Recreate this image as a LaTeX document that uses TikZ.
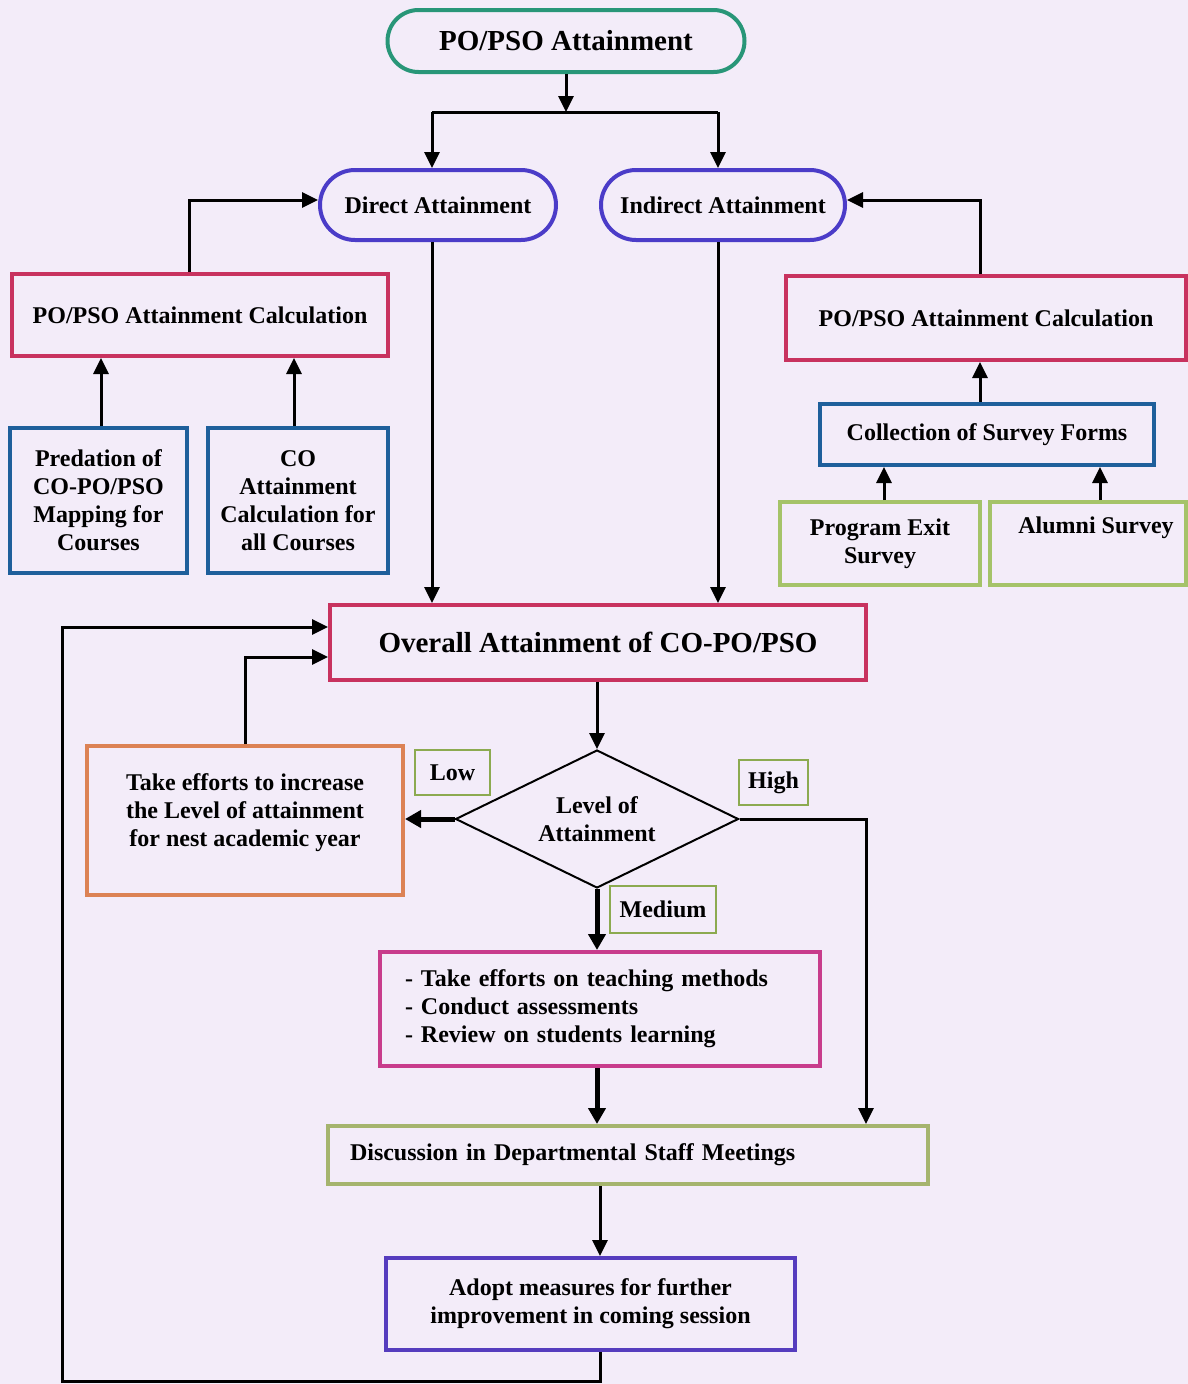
\documentclass[tikz,border=0pt]{standalone}
\usepackage{fontspec}
\setmainfont{Liberation Serif}
\usetikzlibrary{arrows.meta,shapes.geometric,shapes.misc}
\definecolor{bgc}{RGB}{243,236,249}
\definecolor{tealc}{RGB}{40,150,120}
\definecolor{pillc}{RGB}{75,60,200}
\definecolor{crimc}{RGB}{200,50,95}
\definecolor{bluec}{RGB}{30,95,155}
\definecolor{greenc}{RGB}{165,195,105}
\definecolor{orangec}{RGB}{220,130,85}
\definecolor{magc}{RGB}{200,60,140}
\definecolor{olivec}{RGB}{165,180,110}
\definecolor{adoptc}{RGB}{85,60,190}
\definecolor{labc}{RGB}{140,170,80}
\begin{document}
\begin{tikzpicture}[x=1pt,y=-1pt,
  base/.style={font=\bfseries\fontsize{24}{28}\selectfont, align=center, inner sep=0pt},
  big/.style={font=\bfseries\fontsize{29}{33}\selectfont},
  pill/.style={base, rounded rectangle, draw=#1, line width=4pt},
  box/.style={base, rectangle, draw=#1, line width=4pt},
  lab/.style={base, rectangle, draw=labc, line width=2pt},
  conn/.style={line width=3pt, -{Triangle[length=16pt,width=15pt]}},
  thickconn/.style={line width=5pt, -{Triangle[length=16pt,width=17pt]}},
  plain/.style={line width=3pt}]
\fill[bgc] (0,0) rectangle (1188,1384);
\useasboundingbox (0,0) rectangle (1188,1384);

% nodes
\node[pill=tealc, big, minimum width=357pt, minimum height=62pt] (title) at (566,41) {PO/PSO Attainment};
\node[pill=pillc, minimum width=236pt, minimum height=70pt] (direct) at (438,205) {Direct Attainment};
\node[pill=pillc, minimum width=244pt, minimum height=70pt] (indirect) at (723,205) {Indirect Attainment};
\node[box=crimc, minimum width=376pt, minimum height=82pt] (calcL) at (200,315) {PO/PSO Attainment Calculation};
\node[box=crimc, minimum width=400pt, minimum height=84pt] (calcR) at (986,318) {PO/PSO Attainment Calculation};
\node[box=bluec, minimum width=177pt, minimum height=145pt] (pred) at (98.5,500.5) {Predation of\\CO-PO/PSO\\Mapping for\\Courses};
\node[box=bluec, minimum width=180pt, minimum height=145pt] (coatt) at (298,500.5) {CO\\Attainment\\Calculation for\\all Courses};
\node[box=bluec, minimum width=334pt, minimum height=61pt] (coll) at (987,434.5) {Collection of Survey Forms};
\node[box=greenc, minimum width=200pt, minimum height=83pt] (exit) at (880,543.5) {Program Exit\\Survey};
\node[box=greenc, minimum width=196pt, minimum height=83pt] (alum) at (1088,543.5) {\hspace*{16pt}Alumni Survey\\\strut};
\node[box=crimc, big, minimum width=536pt, minimum height=75pt] (overall) at (598,642.5) {Overall Attainment of CO-PO/PSO};
\node[base, diamond, aspect=2.05, draw, line width=2pt, minimum width=283pt, minimum height=138pt] (level) at (597,819) {Level of\\Attainment};
\node[box=orangec, minimum width=316pt, minimum height=149pt] (effort) at (245,820.5) {Take efforts to increase\\the Level of attainment\\for nest academic year\\[-8pt]\mbox{}};
\node[lab, minimum width=75pt, minimum height=45pt] (low) at (452.5,772.5) {Low};
\node[lab, minimum width=69pt, minimum height=45pt] (high) at (773.5,782.5) {High};
\node[lab, minimum width=106pt, minimum height=47pt] (medium) at (663,909.5) {Medium};
\node[box=magc, align=left, text width=390pt, inner xsep=25pt, minimum height=114pt] (bul) at (600,1009) {\mbox{- Take efforts on teaching methods}\\\mbox{- Conduct assessments}\\\mbox{- Review on students learning}};
\node[box=olivec, align=left, text width=556pt, inner xsep=22pt, minimum height=58pt] (disc) at (628,1155) {\mbox{Discussion in Departmental Staff Meetings}};
\node[box=adoptc, minimum width=409pt, minimum height=92pt] (adopt) at (590.5,1304) {Adopt measures for further\\improvement in coming session};

% coordinates
\coordinate (split) at (566,112);
\coordinate (sL) at (432,112);
\coordinate (sR) at (718,112);
\coordinate (clx) at (189,0);
\coordinate (crx) at (980,0);
\coordinate (ax) at (1100,0);
\coordinate (px) at (101,0);
\coordinate (cx) at (294,0);
\coordinate (ex) at (884,0);
\coordinate (hx) at (866,0);
\coordinate (dx) at (600,0);
\coordinate (fb1) at (62,1381);
\coordinate (fbtop) at (62,627);
\coordinate (fb2) at (245,657);

% connectors
\draw[conn] (title.south) -- (split);
\draw[plain] (sL) -- (sR);
\draw[conn] (sL) -- (sL |- direct.north);
\draw[conn] (sR) -- (sR |- indirect.north);
\draw[conn] (sL |- direct.south) -- (sL |- overall.north);
\draw[conn] (sR |- indirect.south) -- (sR |- overall.north);
\draw[conn] (clx |- calcL.north) |- ([yshift=5pt]direct.west);
\draw[conn] (crx |- calcR.north) |- ([yshift=5pt]indirect.east);
\draw[conn] (px |- pred.north) -- (px |- calcL.south);
\draw[conn] (cx |- coatt.north) -- (cx |- calcL.south);
\draw[conn] (crx |- coll.north) -- (crx |- calcR.south);
\draw[conn] (ex |- exit.north) -- (ex |- coll.south);
\draw[conn] (ax |- alum.north) -- (ax |- coll.south);
\draw[conn] (level.north |- overall.south) -- (level.north);
\draw[thickconn] (level.west) -- (level.west -| effort.east);
\draw[conn] (level.east) -| (hx |- disc.north);
\draw[thickconn] (level.south) -- (level.south |- bul.north);
\draw[thickconn] (level.south |- bul.south) -- (level.south |- disc.north);
\draw[conn] (dx |- disc.south) -- (dx |- adopt.north);
\draw[conn] (dx |- adopt.south) |- (fb1) -- (fbtop) -- (fbtop -| overall.west);
\draw[conn] (effort.north) |- (fb2 -| overall.west);
\end{tikzpicture}
\end{document}
